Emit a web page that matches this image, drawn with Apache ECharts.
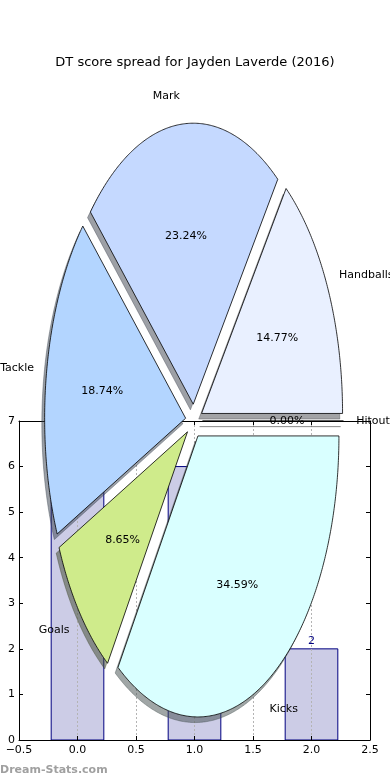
<!DOCTYPE html>
<html><head><meta charset="utf-8">
<script src="https://cdn.jsdelivr.net/npm/echarts@6/dist/echarts.min.js"></script>
<style>html,body{margin:0;padding:0;background:#fff}#c{width:390px;height:780px}</style>
</head><body><div id="c"></div>
<script>
// ---- data ----
const barPositions = [0, 1, 2];
const barValues = [7, 6, 2];
const xTicks = [-0.5, 0, 0.5, 1, 1.5, 2, 2.5];
const yTicks = [0, 1, 2, 3, 4, 5, 6, 7];
const pieLabels = ['Hitout', 'Handballs', 'Mark', 'Tackle', 'Goals', 'Kicks'];
const pieValues = [0, 14.77, 23.24, 18.74, 8.65, 34.59];
const pieColors = ['#ffffff', '#e9f0ff', '#c5d9ff', '#b3d5ff', '#cfeb8b', '#d9ffff'];
const titleText = 'DT score spread for Jayden Laverde (2016)';
const watermark = 'Dream-Stats.com';

// ---- layout ----
const FONT = 'DejaVu Sans';
const PIE = {cx: 194, cy: 421, rx: 141, ry: 281, explode: 0.06, labelDistX: 1.09, labelDistY: 1.1, pctDist: 0.6, shadow: 0.02};

const total = pieValues.reduce((a, b) => a + b, 0);
const angles = [];
{ let acc = 0; pieValues.forEach(v => { const a0 = acc / total * 360; acc += v; angles.push([a0, acc / total * 360]); }); }

function offsets(i) {
  const mid = (angles[i][0] + angles[i][1]) / 2 * Math.PI / 180;
  return {mid, ox: PIE.explode * PIE.rx * Math.cos(mid), oy: -PIE.explode * PIE.ry * Math.sin(mid)};
}
function wedgePoints(i, dx, dy) {
  const [a0, a1] = angles[i];
  const o = offsets(i);
  const ox = o.ox + dx, oy = o.oy + dy;
  const pts = [[PIE.cx + ox, PIE.cy + oy]];
  const n = Math.max(1, Math.ceil((a1 - a0) * 2));
  for (let k = 0; k <= n; k++) {
    const t = (a0 + (a1 - a0) * k / n) * Math.PI / 180;
    pts.push([PIE.cx + ox + PIE.rx * Math.cos(t), PIE.cy + oy - PIE.ry * Math.sin(t)]);
  }
  return pts;
}
function hexToRgb(h) { return [1, 3, 5].map(k => parseInt(h.substr(k, 2), 16)); }

const fmtX = v => (v < 0 ? '\u2212' : '') + Math.abs(v).toFixed(1);

const chart = echarts.init(document.getElementById('c'), null, {renderer: 'canvas'});
chart.setOption({
  backgroundColor: '#ffffff',
  animation: false,
  title: {text: titleText, left: 'center', top: 51,
    textStyle: {fontFamily: FONT, fontSize: 13, fontWeight: 'normal', color: '#000'}},
  graphic: [{type: 'text', left: 0, top: 765, z: 10,
    style: {text: watermark, fill: '#a0a0a0', font: 'bold 11px "DejaVu Sans"'}}],
  grid: {left: 19, right: 20, top: 421, bottom: 40, show: false},
  xAxis: [{
    type: 'value', min: -0.5, max: 2.5, interval: 0.5, position: 'bottom', z: 3,
    axisLine: {show: true, onZero: false, lineStyle: {color: '#000', width: 1}},
    axisTick: {show: true, inside: true, length: 4, lineStyle: {color: '#000'}},
    axisLabel: {color: '#000', fontFamily: FONT, fontSize: 11, margin: 5, formatter: fmtX,
      customValues: xTicks},
    splitLine: {show: true, lineStyle: {color: '#b4b4b4', type: [2, 2], width: 1}}
  }, {
    type: 'value', min: -0.5, max: 2.5, interval: 0.5, position: 'top', z: 3,
    axisLine: {show: true, onZero: false, lineStyle: {color: '#000', width: 1}},
    axisTick: {show: true, inside: true, length: 4, lineStyle: {color: '#000'}},
    axisLabel: {show: false}, splitLine: {show: false}
  }],
  yAxis: [{
    type: 'value', min: 0, max: 7, interval: 1, position: 'left', z: 3,
    axisLine: {show: true, onZero: false, lineStyle: {color: '#000', width: 1}},
    axisTick: {show: true, inside: true, length: 4, lineStyle: {color: '#000'}},
    axisLabel: {color: '#000', fontFamily: FONT, fontSize: 11, margin: 4, customValues: yTicks},
    splitLine: {show: false}
  }, {
    type: 'value', min: 0, max: 7, interval: 1, position: 'right', z: 3,
    axisLine: {show: true, onZero: false, lineStyle: {color: '#000', width: 1}},
    axisTick: {show: true, inside: true, length: 4, lineStyle: {color: '#000'}},
    axisLabel: {show: false}, splitLine: {show: false}
  }],
  series: [{
    type: 'custom', coordinateSystem: 'cartesian2d', xAxisIndex: 0, yAxisIndex: 0, z: 2,
    data: barPositions.map((x, i) => [x, barValues[i]]),
    renderItem: function (params, api) {
      const x = api.value(0), h = api.value(1);
      const p0 = api.coord([x - 0.225, h]);
      const p1 = api.coord([x + 0.225, 0]);
      const top = api.coord([x, h]);
      return {type: 'group', children: [
        {type: 'rect', shape: {x: p0[0], y: p0[1], width: p1[0] - p0[0], height: p1[1] - p0[1]},
          style: {fill: '#cccce6', stroke: '#000080', lineWidth: 1}},
        {type: 'text', style: {text: String(h), x: top[0], y: top[1] - 2, align: 'center', verticalAlign: 'bottom',
          fill: '#000080', font: '11px "DejaVu Sans"'}}
      ]};
    }
  }, {
    type: 'custom', coordinateSystem: 'none', z: 5,
    data: pieValues.map((v, i) => [i, v]),
    renderItem: function (params, api) {
      const i = params.dataIndex;
      const rgb = hexToRgb(pieColors[i]).map(c => Math.round(c * 0.3));
      const col = 'rgba(' + rgb.join(',') + ',0.5)';
      return {type: 'polygon', shape: {points: wedgePoints(i, -PIE.shadow * PIE.rx, PIE.shadow * PIE.ry)},
        style: {fill: col, stroke: col, lineWidth: 0.8}};
    }
  }, {
    type: 'custom', coordinateSystem: 'none', z: 6,
    data: pieValues.map((v, i) => [i, v]),
    renderItem: function (params, api) {
      const i = params.dataIndex;
      const o = offsets(i);
      const cx = PIE.cx + o.ox, cy = PIE.cy + o.oy;
      const lx = cx + PIE.labelDistX * PIE.rx * Math.cos(o.mid);
      const ly = cy - PIE.labelDistY * PIE.ry * Math.sin(o.mid);
      const px = cx + PIE.pctDist * PIE.rx * Math.cos(o.mid);
      const py = cy - PIE.pctDist * PIE.ry * Math.sin(o.mid);
      const pct = (api.value(1) / total * 100).toFixed(2) + '%';
      return {type: 'group', children: [
        {type: 'polygon', shape: {points: wedgePoints(i, 0, 0)},
          style: {fill: pieColors[i], stroke: '#000', lineWidth: 0.8}},
        {type: 'text', style: {text: pieLabels[i], x: lx, y: ly, align: (lx - cx) > 0 ? 'left' : 'right',
          verticalAlign: 'middle', fill: '#000', font: '11px "DejaVu Sans"'}},
        {type: 'text', style: {text: pct, x: px, y: py, align: 'center', verticalAlign: 'middle',
          fill: '#000', font: '11px "DejaVu Sans"'}}
      ]};
    }
  }]
});
</script></body></html>
